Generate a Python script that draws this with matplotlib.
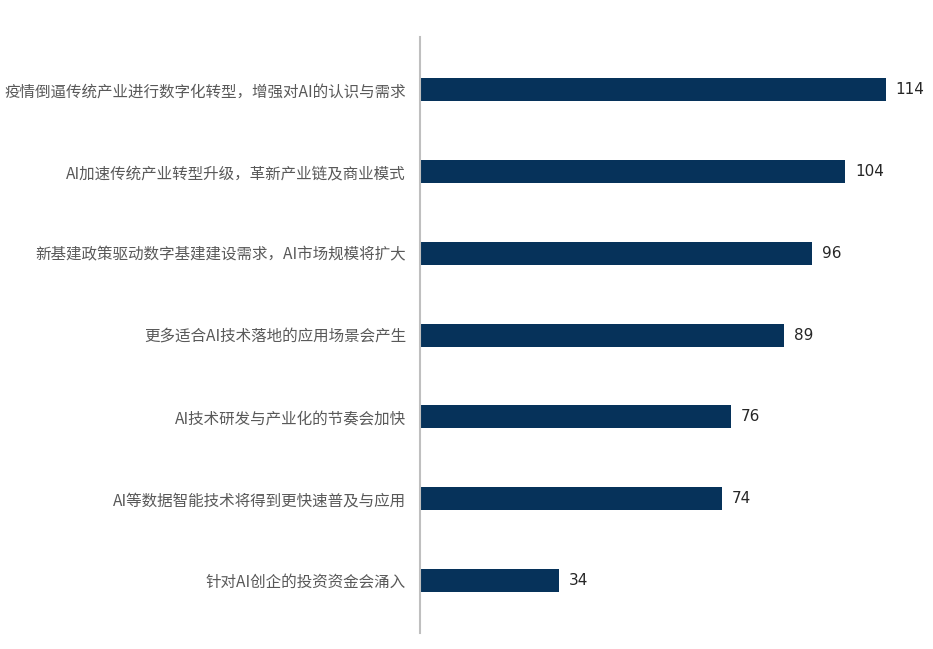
import matplotlib
matplotlib.use("Agg")
import matplotlib.pyplot as plt

plt.rcParams['font.family'] = ['Noto Sans CJK SC', 'DejaVu Sans']

categories = [
    "疫情倒逼传统产业进行数字化转型，增强对AI的认识与需求",
    "AI加速传统产业转型升级，革新产业链及商业模式",
    "新基建政策驱动数字基建建设需求，AI市场规模将扩大",
    "更多适合AI技术落地的应用场景会产生",
    "AI技术研发与产业化的节奏会加快",
    "AI等数据智能技术将得到更快速普及与应用",
    "针对AI创企的投资资金会涌入",
]
values = [114, 104, 96, 89, 76, 74, 34]

bar_color = "#06325a"

fig = plt.figure(figsize=(9.33, 6.49), dpi=100)
ax = fig.add_axes([0.450, 0.0247, 0.55, 0.918])

y = list(range(len(categories)))
ax.barh(y, values, height=0.28, color=bar_color)

# value labels next to each bar
for yi, v in zip(y, values):
    ax.text(v + 2.4, yi, str(v), va="center", ha="left",
            fontsize=11, color="#262626", family="DejaVu Sans")

ax.set_yticks(y)
ax.set_yticklabels(categories, fontsize=11.2, color="#595959")
ax.tick_params(axis="y", length=0, pad=10)
ax.set_xticks([])
ax.set_xlim(0, 125.5)
ax.set_ylim(6.645, -0.645)

for s in ["top", "right", "bottom"]:
    ax.spines[s].set_visible(False)
ax.spines["left"].set_color("#bfbfbf")
ax.spines["left"].set_linewidth(1.5)

fig.savefig("out.png", dpi=100)
